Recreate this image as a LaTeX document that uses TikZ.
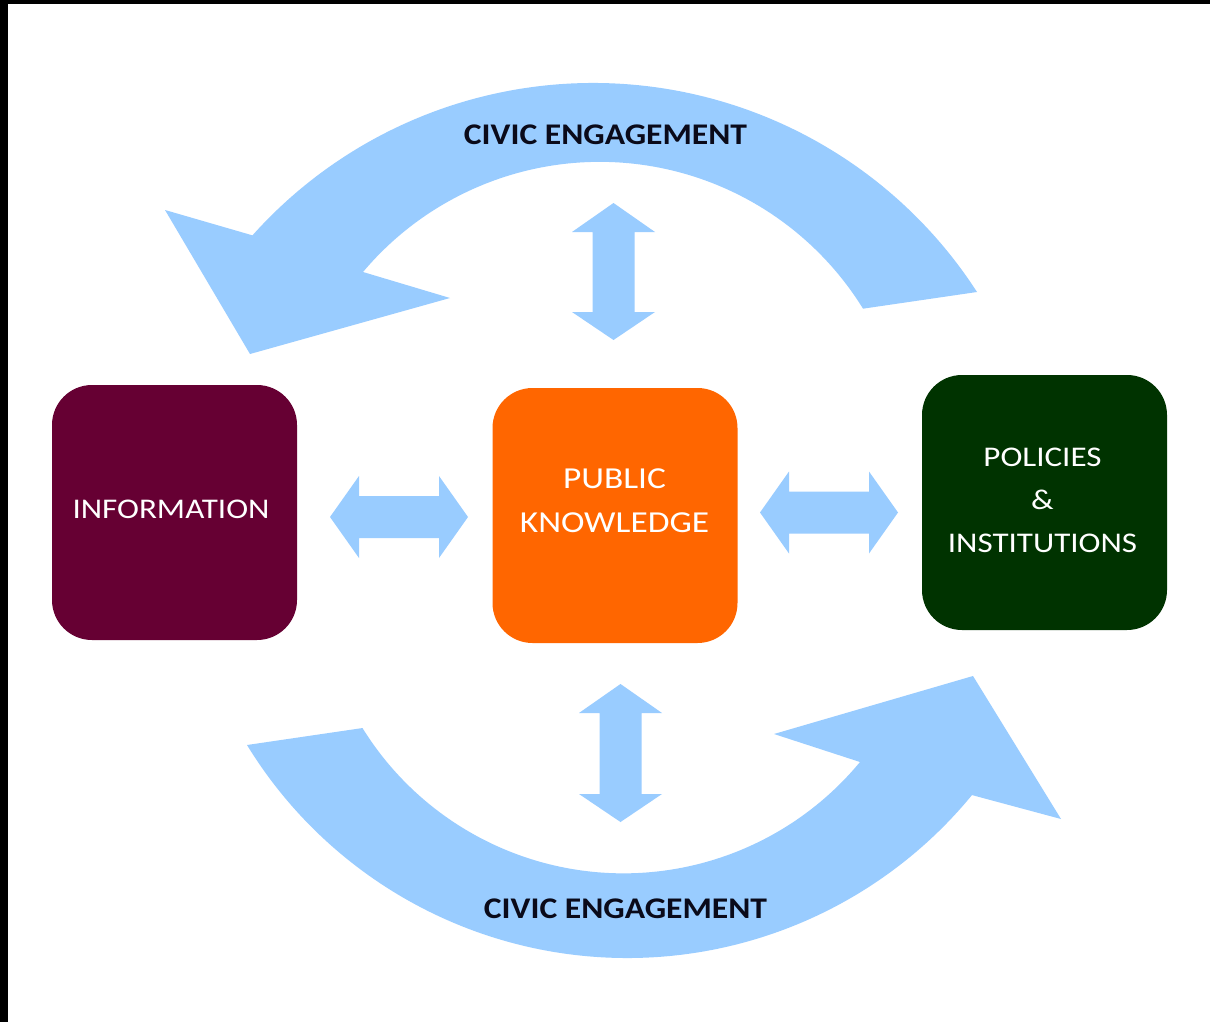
\documentclass[tikz,border=0pt]{standalone}
\usepackage{fontspec}
\newfontfamily\boxfont{Carlito}[FakeStretch=1.16]
\newfontfamily\civfont{Carlito}[FakeStretch=1.12]
\definecolor{lblue}{HTML}{99CCFF}
\definecolor{maroonbox}{HTML}{660033}
\definecolor{orangebox}{HTML}{FF6600}
\definecolor{greenbox}{HTML}{003300}
\definecolor{civtext}{HTML}{0A0A1A}
\newcommand\hdarrow[3]{% x1, x2, yc
  \fill[lblue] (#1,#3) -- (#1+29,#3-41) -- (#1+29,#3-21) -- (#2-29,#3-21) -- (#2-29,#3-41)
    -- (#2,#3) -- (#2-29,#3+41) -- (#2-29,#3+21) -- (#1+29,#3+21) -- (#1+29,#3+41) -- cycle;}
\newcommand\vdarrow[3]{% y1, y2, xc
  \fill[lblue] (#3,#1) -- (#3+41.5,#1+29) -- (#3+21,#1+29) -- (#3+21,#2-28) -- (#3+41.5,#2-28)
    -- (#3,#2) -- (#3-41.5,#2-28) -- (#3-21,#2-28) -- (#3-21,#1+29) -- (#3-41.5,#1+29) -- cycle;}
\tikzset{
  box/.style={rectangle, rounded corners=40pt, minimum width=245pt, minimum height=255pt, inner sep=0pt, draw=none},
  boxtext/.style={text=white, align=center, inner sep=0pt, font=\boxfont\fontsize{28.5}{43}\selectfont},
  bigboxtext/.style={boxtext, font=\boxfont\fontsize{30.5}{44}\selectfont},
  civ/.style={text=civtext, inner sep=0pt, font=\civfont\bfseries\fontsize{30}{36}\selectfont}
}
\begin{document}
\begin{tikzpicture}[x=1pt,y=-1pt]
\useasboundingbox (0,0) rectangle (1210,1022);
\fill[white] (0,0) rectangle (1210,1022);
\fill[black] (0,0) rectangle (1210,4);
\fill[black] (0,0) rectangle (8,1022);

% top curved arrow
\fill[lblue] (977,292) arc[start angle=-32.86, end angle=-138.2, radius=457]
  -- (165,210) -- (250,354) -- (450,298) -- (363,272)
  arc[start angle=-139.9, end angle=-31.71, radius=309.5] -- cycle;
% bottom curved arrow
\fill[lblue] (247,745) arc[start angle=148.51, end angle=39.39, radius=446]
  -- (1061,819) -- (973,676) -- (774,734) -- (860,762)
  arc[start angle=39.59, end angle=148.22, radius=307] -- cycle;

% boxes
\node[box, fill=maroonbox] (info) at (174.5,512.5) {};
\node[box, fill=orangebox] (pk) at (615,515.5) {};
\node[box, fill=greenbox] (pol) at (1044.5,502.5) {};

\node[boxtext] (infot) at (171,509.5) {INFORMATION};
\node[bigboxtext] (pkt) at (614.5,501) {PUBLIC\\KNOWLEDGE};
\node[boxtext] (polt) at (1042.5,500) {POLICIES\\\&\\INSTITUTIONS};

% double arrows
\hdarrow{330}{468}{517}
\hdarrow{760}{898}{512.5}
\vdarrow{203}{340}{613.5}
\vdarrow{684}{822}{620.5}

\node[civ] (civtop) at (605.5,134.5) {CIVIC ENGAGEMENT};
\node[civ] (civbot) at (625.5,909) {CIVIC ENGAGEMENT};
\end{tikzpicture}
\end{document}
